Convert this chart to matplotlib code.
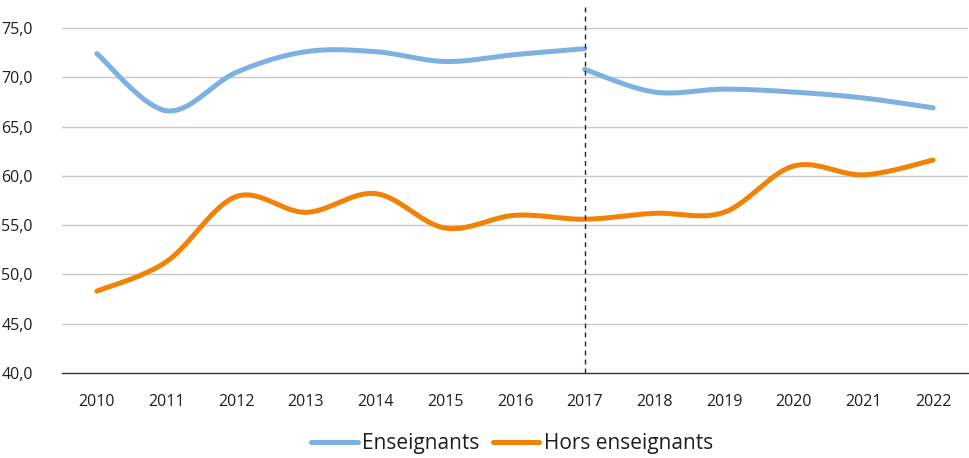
import numpy as np
import matplotlib
matplotlib.use("Agg")
import matplotlib.pyplot as plt
from matplotlib.lines import Line2D

years = list(range(2010, 2023))
ens_part1_years = [2010, 2011, 2012, 2013, 2014, 2015, 2016, 2017]
ens_part1 = [72.4, 66.6, 70.5, 72.6, 72.6, 71.6, 72.3, 72.9]
ens_part2_years = [2017, 2018, 2019, 2020, 2021, 2022]
ens_part2 = [70.8, 68.5, 68.8, 68.5, 67.9, 66.9]
hors = [48.3, 51.3, 57.9, 56.3, 58.2, 54.7, 56.0, 55.6, 56.2, 56.3, 61.0, 60.1, 61.6]
yticks = [40, 45, 50, 55, 60, 65, 70, 75]
break_year = 2017

BLUE = "#7DB1E1"
ORANGE = "#F18203"
FONT = ["Open Sans", "DejaVu Sans"]
plt.rcParams['font.family'] = FONT


def smooth(xs, ys, n=40):
    xs = np.asarray(xs, float)
    ys = np.asarray(ys, float)
    px = np.concatenate([[xs[0]], xs, [xs[-1]]])
    py = np.concatenate([[ys[0]], ys, [ys[-1]]])
    outx, outy = [], []
    t = np.linspace(0, 1, n)
    for i in range(1, len(px) - 2):
        p0 = np.array([px[i - 1], py[i - 1]])
        p1 = np.array([px[i], py[i]])
        p2 = np.array([px[i + 1], py[i + 1]])
        p3 = np.array([px[i + 2], py[i + 2]])
        c1 = p1 + (p2 - p0) / 6.0
        c2 = p2 - (p3 - p1) / 6.0
        b = ((1 - t) ** 3)[:, None] * p1 + (3 * (1 - t) ** 2 * t)[:, None] * c1 \
            + (3 * (1 - t) * t ** 2)[:, None] * c2 + (t ** 3)[:, None] * p2
        outx.extend(b[:, 0])
        outy.extend(b[:, 1])
    return np.array(outx), np.array(outy)


fig = plt.figure(figsize=(9.69, 4.58), dpi=100)
ax = fig.add_axes([62 / 969, 1 - 373 / 458, 906 / 969, 368 / 458])

ax.set_xlim(2009.5, 2022.5)
ax.set_ylim(40, 40 + 35 * 368 / 345)

for yv in yticks[1:]:
    ax.axhline(yv, color="#c9c9c9", lw=1.0, zorder=1)

x1, y1 = smooth(ens_part1_years, ens_part1)
x2, y2 = smooth(ens_part2_years, ens_part2)
xh, yh = smooth(years, hors)
ax.plot(x1, y1, color=BLUE, lw=3.6, solid_capstyle="round", zorder=3)
ax.plot(x2, y2, color=BLUE, lw=3.6, solid_capstyle="round", zorder=3)
ax.plot(xh, yh, color=ORANGE, lw=3.6, solid_capstyle="round", zorder=3)

ax.axvline(break_year, ymin=0, ymax=(77.1 - 40) / (ax.get_ylim()[1] - 40),
           color="#1b1b5a", lw=1.0, ls=(0, (3.5, 3)), zorder=4)

for s in ["top", "right", "left"]:
    ax.spines[s].set_visible(False)
ax.spines["bottom"].set_color("#333333")
ax.spines["bottom"].set_linewidth(1.0)
ax.spines["bottom"].set_zorder(5)

ax.set_yticks(yticks)
ax.set_yticklabels([f"{v:.1f}".replace(".", ",") for v in yticks])
ax.set_xticks(years)
ax.set_xticklabels([str(y) for y in years])
ax.tick_params(axis="y", length=0, pad=21, labelsize=11.5, labelcolor="#1e1e1e")
ax.tick_params(axis="x", length=0, pad=15, labelsize=11.5, labelcolor="#1e1e1e")

handles = [Line2D([], [], color=BLUE, lw=3.6, solid_capstyle="round"),
           Line2D([], [], color=ORANGE, lw=3.6, solid_capstyle="round")]
fig.legend(handles, ["Enseignants", "Hors enseignants"], loc="center",
           bbox_to_anchor=(512 / 969, 1 - 444 / 458), ncol=2, frameon=False,
           fontsize=15, handlelength=2.25, handletextpad=0.2,
           columnspacing=0.62, labelcolor="#1e1e1e")

fig.savefig("out.png", dpi=100)
